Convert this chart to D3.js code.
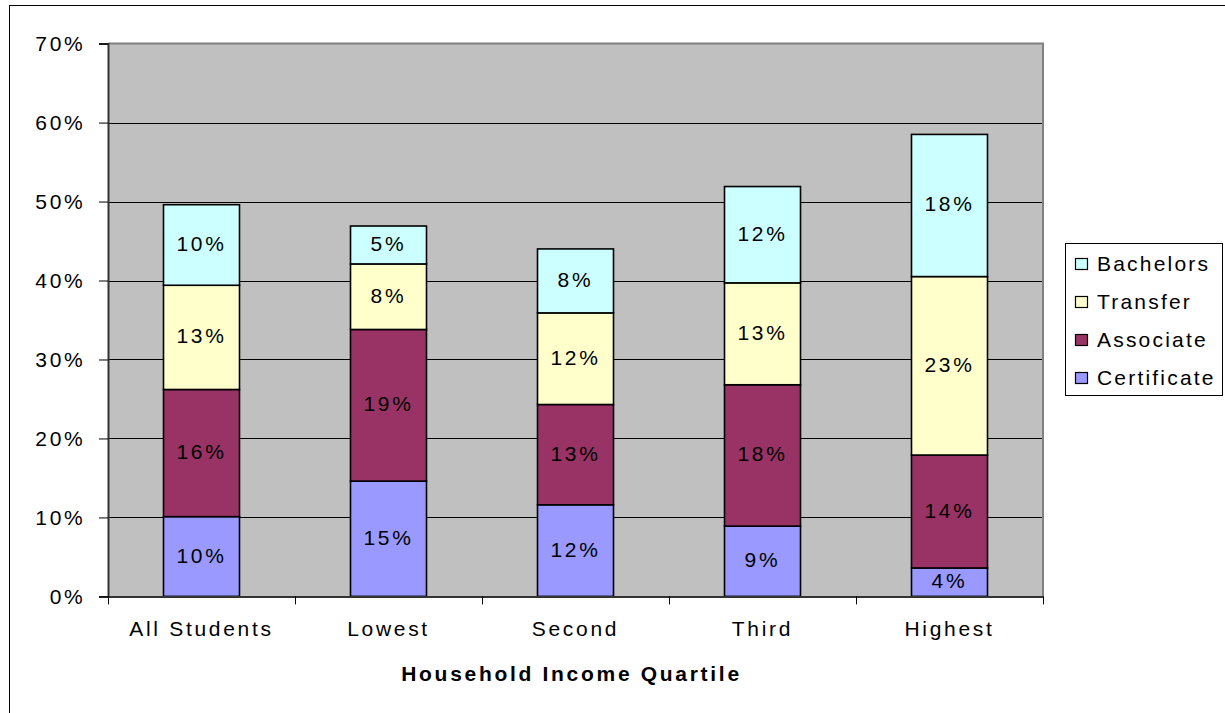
<!DOCTYPE html>
<html>
<head>
<meta charset="utf-8">
<script src="https://cdn.jsdelivr.net/npm/d3@7"></script>
<style>
  html, body { margin: 0; padding: 0; background: #fff; }
  svg { display: block; }
  text { font-family: "Liberation Sans", Arial, sans-serif; fill: #000; }
</style>
</head>
<body>
<svg id="chart" width="1225" height="713"></svg>
<script>
// ---- data ----
const categories = ["All Students", "Lowest", "Second", "Third", "Highest"];
const certificate = [10.1, 14.6, 11.6, 8.9, 3.6];
const associate   = [16.1, 19.2, 12.7, 17.9, 14.3];
const transfer    = [13.2, 8.3, 11.6, 12.9, 22.6];
const bachelors   = [10.2, 4.8, 8.1, 12.2, 18.0];
const seriesNames = ["Certificate", "Associate", "Transfer", "Bachelors"];
const seriesColors = ["#9999FF", "#993366", "#FFFFCC", "#CCFFFF"];
const yTicks = [0, 10, 20, 30, 40, 50, 60, 70];
const xTitle = "Household Income Quartile";

// ---- layout ----
const plot = { left: 108, right: 1043, top: 43.6, bottom: 596.4 };
const FS = 21, LS = 2.7;

const svg = d3.select("#chart");

// outer frame
svg.append("rect").attr("x", 9.5).attr("y", 5.5).attr("width", 1400).attr("height", 900)
  .attr("fill", "#fff").attr("stroke", "#000").attr("stroke-width", 1);

const x = d3.scaleBand().domain(categories).range([plot.left, plot.right]).paddingInner(0).paddingOuter(0);
const y = d3.scaleLinear().domain([0, 70]).range([plot.bottom, plot.top]);

// plot background
svg.append("rect").attr("x", plot.left).attr("y", plot.top)
  .attr("width", plot.right - plot.left).attr("height", plot.bottom - plot.top)
  .attr("fill", "#C0C0C0");

// gridlines
svg.append("g").selectAll("line").data(yTicks.filter(d => d > 0 && d < 70)).join("line")
  .attr("x1", plot.left).attr("x2", plot.right)
  .attr("y1", d => Math.round(y(d)) + 0.5).attr("y2", d => Math.round(y(d)) + 0.5)
  .attr("stroke", "#000").attr("stroke-width", 1);

// plot border top/right
svg.append("path")
  .attr("d", `M${plot.left},${plot.top}H${plot.right}V${plot.bottom}`)
  .attr("fill", "none").attr("stroke", "#808080").attr("stroke-width", 2);

// stacked data
const rows = categories.map((c, i) => ({
  cat: c, Certificate: certificate[i], Associate: associate[i], Transfer: transfer[i], Bachelors: bachelors[i]
}));
const stack = d3.stack().keys(seriesNames)(rows);
const color = d3.scaleOrdinal().domain(seriesNames).range(seriesColors);

const barW = 76;
const layers = svg.append("g").selectAll("g").data(stack).join("g")
  .attr("fill", d => color(d.key));
layers.selectAll("rect").data(d => d).join("rect")
  .attr("x", d => x(d.data.cat) + x.bandwidth() / 2 - barW / 2)
  .attr("width", barW)
  .attr("y", d => y(d[1]))
  .attr("height", d => y(d[0]) - y(d[1]))
  .attr("stroke", "#000").attr("stroke-width", 1.6);

// bar labels
stack.forEach(layer => {
  svg.append("g").selectAll("text").data(layer).join("text")
    .attr("x", d => x(d.data.cat) + x.bandwidth() / 2)
    .attr("y", d => (y(d[0]) + y(d[1])) / 2 + 6)
    .attr("text-anchor", "middle")
    .style("font-size", FS + "px").style("letter-spacing", LS + "px")
    .text(d => Math.round(d[1] - d[0]) + "%");
});

// y axis
const yAxis = svg.append("g").attr("transform", `translate(${plot.left},0)`)
  .call(d3.axisLeft(y).tickValues(yTicks).tickSize(9).tickFormat(d => d + "%"));
yAxis.select(".domain").attr("stroke", "#333").attr("stroke-width", 2);
yAxis.selectAll(".tick line").attr("stroke", "#000").attr("stroke-width", 1);
yAxis.selectAll(".tick text")
  .attr("x", -22.5).attr("dy", null).attr("y", 7)
  .attr("text-anchor", "end").attr("fill", "#000")
  .style("font-family", '"Liberation Sans", Arial, sans-serif')
  .style("font-size", FS + "px").style("letter-spacing", LS + "px");

// x axis
const xAxis = svg.append("g").attr("transform", `translate(0,${plot.bottom})`)
  .call(d3.axisBottom(x).tickSize(0));
xAxis.select(".domain").attr("stroke", "#333").attr("stroke-width", 2);
xAxis.selectAll(".tick text")
  .attr("dy", null).attr("y", 39.5)
  .attr("fill", "#000")
  .style("font-family", '"Liberation Sans", Arial, sans-serif')
  .style("font-size", FS + "px").style("letter-spacing", LS + "px");
// boundary ticks
const bounds = categories.map(c => x(c)).concat([x(categories[categories.length - 1]) + x.bandwidth()]);
xAxis.selectAll(".bt").data(bounds).join("line").attr("class", "bt")
  .attr("x1", d => Math.round(d) + 0.5).attr("x2", d => Math.round(d) + 0.5)
  .attr("y1", 0).attr("y2", 8).attr("stroke", "#000").attr("stroke-width", 1);

// x title
svg.append("text")
  .attr("x", 571.5).attr("y", 681)
  .attr("text-anchor", "middle")
  .style("font-size", FS + "px").style("font-weight", "bold").style("letter-spacing", LS + "px")
  .text(xTitle);

// legend
const legend = svg.append("g");
legend.append("rect").attr("x", 1065.5).attr("y", 243.5).attr("width", 157).attr("height", 152)
  .attr("fill", "#fff").attr("stroke", "#000").attr("stroke-width", 1);
const legOrder = seriesNames.slice().reverse();
const li = legend.selectAll("g.item").data(legOrder).join("g").attr("class", "item")
  .attr("transform", (d, i) => `translate(0,${i * 38})`);
li.append("rect").attr("x", 1075.5).attr("y", 258.5).attr("width", 12).attr("height", 11)
  .attr("fill", d => color(d)).attr("stroke", "#000").attr("stroke-width", 1.2);
li.append("text")
  .attr("x", 1097).attr("y", 270.5)
  .style("font-size", FS + "px").style("letter-spacing", "2.2px")
  .text(d => d);
</script>
</body>
</html>
